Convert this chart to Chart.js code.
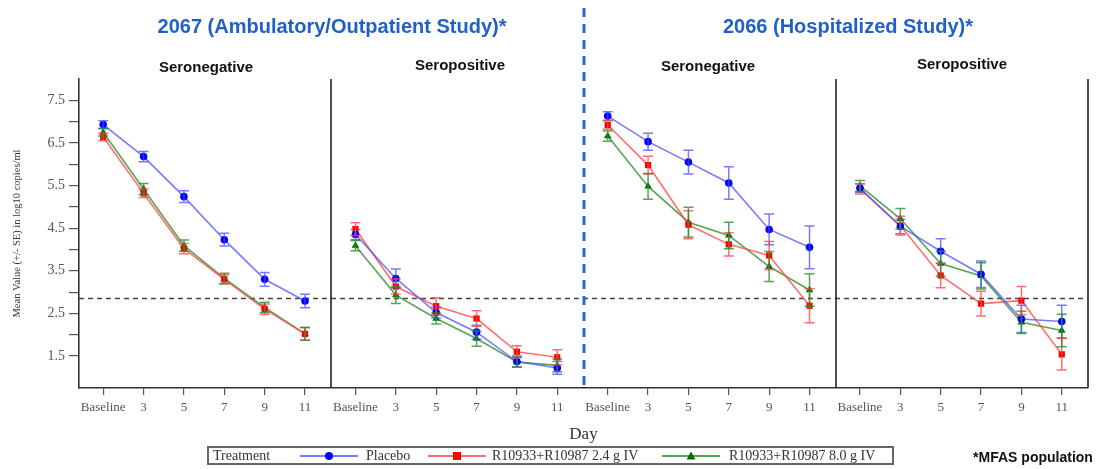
<!DOCTYPE html>
<html><head><meta charset="utf-8">
<script src="https://cdn.jsdelivr.net/npm/chart.js@4.4.1/dist/chart.umd.min.js"></script>
<style>
html,body{margin:0;padding:0;background:#fff}
body{width:1107px;height:469px;overflow:hidden;position:relative;font-family:"Liberation Sans",Arial,sans-serif}
#c{position:absolute;left:0;top:0}
.t{position:absolute;white-space:nowrap;transform:translate(-50%,-50%)}
.study{font-weight:bold;font-size:20px;color:#2160c8}
.sub{font-weight:bold;font-size:15px;color:#111}
#legend{position:absolute;left:207px;top:446px;width:687px;height:19px;box-sizing:border-box;border:2px solid #666;font-family:"Liberation Serif","Times New Roman",serif;font-size:14px;color:#333}
#legend span,#legend svg{position:absolute;top:50%;transform:translateY(-50%)}
#mfas{font-weight:bold;font-size:14px;color:#111}
</style></head>
<body>
<canvas id="c" width="1107" height="469"></canvas>
<div class="t study" style="left:332px;top:26px">2067 (Ambulatory/Outpatient Study)*</div>
<div class="t study" style="left:848px;top:26px">2066 (Hospitalized Study)*</div>
<div class="t sub" style="left:206px;top:66px">Seronegative</div>
<div class="t sub" style="left:460px;top:64px">Seropositive</div>
<div class="t sub" style="left:708px;top:65px">Seronegative</div>
<div class="t sub" style="left:962px;top:63px">Seropositive</div>
<div id="legend"></div>
<div class="t" id="mfas" style="left:1033px;top:457px">*MFAS population</div>
<script>
// ---------- data ----------
const days = ['Baseline','3','5','7','9','11'];
const treatments = ['Placebo','R10933+R10987 2.4 g IV','R10933+R10987 8.0 g IV'];
const yTickValues = [1.5,2.0,2.5,3.0,3.5,4.0,4.5,5.0,5.5,6.0,6.5,7.0,7.5];
const lloq = 2.85;

// 2067 Seronegative
const s2067negPlacebo   = [6.93,6.18,5.24,4.23,3.30,2.79];
const s2067negPlaceboSE = [0.09,0.12,0.14,0.15,0.16,0.16];
const s2067negLow       = [6.64,5.32,4.02,3.30,2.60,2.02];
const s2067negLowSE     = [0.09,0.10,0.12,0.11,0.12,0.15];
const s2067negHigh      = [6.75,5.42,4.09,3.32,2.64,2.02];
const s2067negHighSE    = [0.09,0.13,0.13,0.12,0.12,0.15];
// 2067 Seropositive
const s2067posPlacebo   = [4.35,3.32,2.52,2.06,1.37,1.22];
const s2067posPlaceboSE = [0.12,0.22,0.13,0.16,0.13,0.15];
const s2067posLow       = [4.48,3.13,2.67,2.38,1.60,1.47];
const s2067posLowSE     = [0.15,0.18,0.20,0.18,0.14,0.18];
const s2067posHigh      = [4.09,2.93,2.38,1.91,1.36,1.28];
const s2067posHighSE    = [0.12,0.20,0.13,0.18,0.12,0.15];
// 2066 Seronegative
const s2066negPlacebo   = [7.13,6.53,6.05,5.56,4.47,4.05];
const s2066negPlaceboSE = [0.10,0.20,0.28,0.38,0.36,0.50];
const s2066negLow       = [6.92,5.98,4.58,4.12,3.86,2.68];
const s2066negLowSE     = [0.10,0.21,0.33,0.27,0.33,0.40];
const s2066negHigh      = [6.66,5.48,4.64,4.33,3.60,3.05];
const s2066negHighSE    = [0.12,0.30,0.35,0.31,0.35,0.38];
// 2066 Seropositive
const s2066posPlacebo   = [5.44,4.54,3.96,3.42,2.37,2.31];
const s2066posPlaceboSE = [0.10,0.17,0.29,0.31,0.32,0.38];
const s2066posLow       = [5.42,4.56,3.39,2.73,2.80,1.54];
const s2066posLowSE     = [0.12,0.22,0.29,0.29,0.33,0.37];
const s2066posHigh      = [5.49,4.72,3.67,3.38,2.29,2.10];
const s2066posHighSE    = [0.13,0.24,0.29,0.31,0.26,0.38];

// ---------- build ----------
const panels = [
  [[s2067negPlacebo,s2067negPlaceboSE],[s2067negLow,s2067negLowSE],[s2067negHigh,s2067negHighSE]],
  [[s2067posPlacebo,s2067posPlaceboSE],[s2067posLow,s2067posLowSE],[s2067posHigh,s2067posHighSE]],
  [[s2066negPlacebo,s2066negPlaceboSE],[s2066negLow,s2066negLowSE],[s2066negHigh,s2066negHighSE]],
  [[s2066posPlacebo,s2066posPlaceboSE],[s2066posLow,s2066posLowSE],[s2066posHigh,s2066posHighSE]]
];
const PW = 6.25, OFF = 0.6;
const styles = [
  {line:'rgba(70,70,255,0.72)', pt:'#0000ff', shape:'circle', r:3.8},
  {line:'rgba(255,70,70,0.78)', pt:'#ff0000', shape:'rect', r:4.4},
  {line:'rgba(40,140,40,0.78)', pt:'#007000', shape:'triangle', r:4.4}
];
const datasets = [];
panels.forEach((pan,p)=>{
  pan.forEach(([vals,se],t)=>{
    const st = styles[t];
    datasets.push({
      label: treatments[t],
      data: vals.map((v,i)=>({x:p*PW+OFF+i, y:v})),
      errors: se,
      borderColor: st.line, backgroundColor: st.pt,
      pointBackgroundColor: st.pt, pointBorderColor: st.pt,
      pointStyle: st.shape, pointRadius: st.r, pointBorderWidth: 0,
      borderWidth: 1.6, tension: 0, fill:false
    });
  });
});
const xTickValues = [];
for (let p=0;p<4;p++) for (let i=0;i<days.length;i++) xTickValues.push(p*PW+OFF+i);

const framePlugin = {
  id:'frame',
  beforeDatasetsDraw(chart){
    const {ctx, chartArea:a, scales:{x,y}} = chart;
    ctx.save();
    ctx.strokeStyle='#444'; ctx.lineWidth=1.4; ctx.setLineDash([5,4]);
    const ly = y.getPixelForValue(lloq);
    ctx.beginPath(); ctx.moveTo(a.left,ly); ctx.lineTo(a.right,ly); ctx.stroke();
    ctx.setLineDash([]);
    ctx.strokeStyle='#222'; ctx.lineWidth=1.6;
    [PW, 3*PW, 4*PW].forEach(v=>{
      const px = Math.round(x.getPixelForValue(v));
      ctx.beginPath(); ctx.moveTo(px,a.top); ctx.lineTo(px,a.bottom); ctx.stroke();
    });
    ctx.restore();
  },
  afterDraw(chart){
    const {ctx, chartArea:a, scales:{x}} = chart;
    ctx.save();
    ctx.strokeStyle='#2a66d6'; ctx.lineWidth=3; ctx.setLineDash([9,7]);
    const px = Math.round(x.getPixelForValue(2*PW));
    ctx.beginPath(); ctx.moveTo(px,8); ctx.lineTo(px,a.bottom); ctx.stroke();
    ctx.restore();
  }
};
const errorBars = {
  id:'errorBars',
  afterDatasetsDraw(chart){
    const {ctx, scales:{x,y}} = chart;
    chart.data.datasets.forEach(ds=>{
      ctx.save(); ctx.strokeStyle = ds.borderColor; ctx.lineWidth = 1.5;
      ds.data.forEach((pt,i)=>{
        const e = ds.errors[i];
        const px = x.getPixelForValue(pt.x);
        const y1 = y.getPixelForValue(pt.y-e), y2 = y.getPixelForValue(pt.y+e);
        ctx.beginPath();
        ctx.moveTo(px,y1); ctx.lineTo(px,y2);
        ctx.moveTo(px-5,y1); ctx.lineTo(px+5,y1);
        ctx.moveTo(px-5,y2); ctx.lineTo(px+5,y2);
        ctx.stroke();
      });
      ctx.restore();
    });
  }
};

new Chart(document.getElementById('c'), {
  type:'line',
  data:{datasets},
  options:{
    responsive:false, animation:false, devicePixelRatio:1,
    layout:{padding:{left:0,right:19,top:79,bottom:0}},
    plugins:{legend:{display:false}, tooltip:{enabled:false}, title:{display:false}},
    scales:{
      x:{
        type:'linear', min:0, max:4*PW,
        afterBuildTicks(s){ s.ticks = xTickValues.map(v=>({value:v})); },
        afterFit(s){ s.height = 81; },
        ticks:{autoSkip:false, maxRotation:0, minRotation:0, padding:5,
          font:{family:'"Liberation Serif", serif', size:13}, color:'#555',
          callback:(v,i)=>days[i%days.length]},
        grid:{drawOnChartArea:false, drawTicks:true, tickLength:7, color:'#555', lineWidth:1.2},
        border:{display:true, color:'#333', width:1.6},
        title:{display:true, text:'Day', color:'#333', font:{family:'"Liberation Serif", serif', size:17}, padding:{top:0,bottom:24}}
      },
      y:{
        type:'linear', min:0.75, max:8,
        afterBuildTicks(s){ s.ticks = yTickValues.map(v=>({value:v})); },
        afterFit(s){ s.width = 79; },
        ticks:{padding:4, font:{family:'"Liberation Serif", serif', size:14}, color:'#555',
          callback:(v)=> (Math.round(v*2)%2===1) ? v.toFixed(1) : ''},
        grid:{drawOnChartArea:false, drawTicks:true, tickLength:10, color:'#555', lineWidth:1.2},
        border:{display:true, color:'#333', width:1.6},
        title:{display:true, text:'Mean Value (+/- SE) in log10 copies/ml', color:'#333', font:{family:'"Liberation Serif", serif', size:10.5}, padding:{top:11,bottom:0}}
      }
    }
  },
  plugins:[framePlugin, errorBars]
});

// ---------- legend (HTML) ----------
const lg = document.getElementById('legend');
const legendPos = [[300,366],[428,492],[662,729]];
let html = '<span style="left:4px">Treatment</span>';
treatments.forEach((t,i)=>{
  const st = styles[i];
  const lx = legendPos[i][0]-209, tx = legendPos[i][1]-209;
  let mk;
  if (st.shape==='circle') mk = `<circle cx="29" cy="6" r="4" fill="${st.pt}"/>`;
  else if (st.shape==='rect') mk = `<rect x="25" y="2" width="8" height="8" fill="${st.pt}"/>`;
  else mk = `<polygon points="29,1.5 33.5,9.5 24.5,9.5" fill="${st.pt}"/>`;
  html += `<svg style="left:${lx}px" width="58" height="12"><line x1="0" y1="6" x2="58" y2="6" stroke="${st.line}" stroke-width="2"/>${mk}</svg>`;
  html += `<span style="left:${tx}px">${t}</span>`;
});
lg.innerHTML = html;
</script>
</body></html>
